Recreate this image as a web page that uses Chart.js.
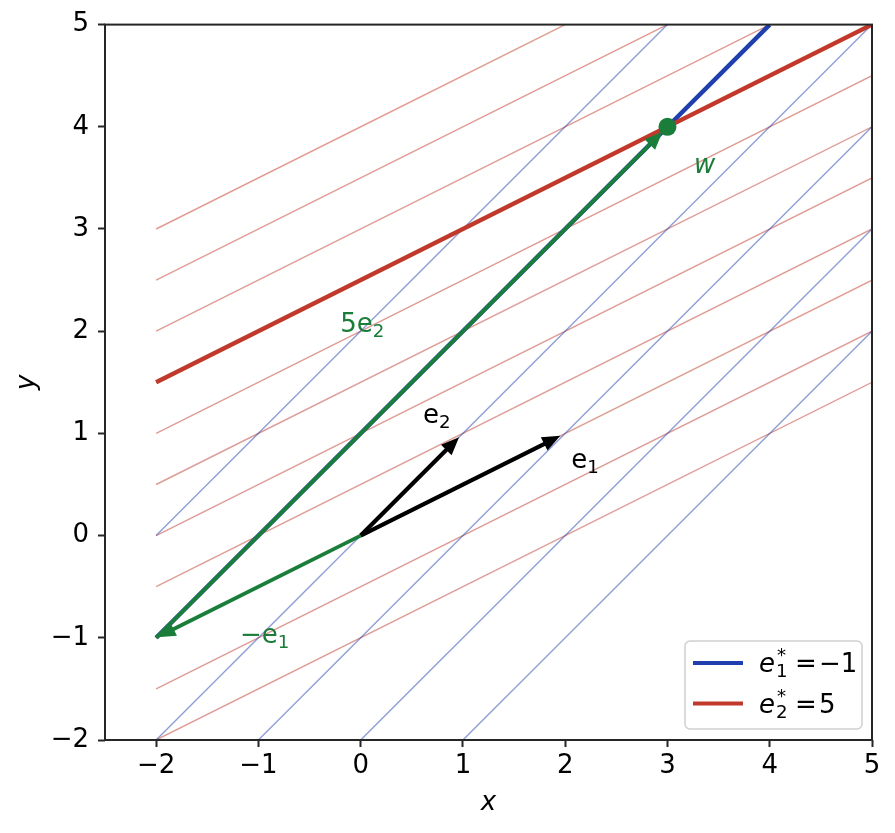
<!DOCTYPE html>
<html>
<head>
<meta charset="utf-8">
<script src="https://cdn.jsdelivr.net/npm/chart.js@4/dist/chart.umd.min.js"></script>
<style>
  html, body { margin: 0; padding: 0; background: #fff; }
  #wrap { width: 895px; height: 833px; }
</style>
</head>
<body>
<div id="wrap"><canvas id="dualChart" width="895" height="833"></canvas></div>
<script>
// axis ticks
const xTicks = [-2, -1, 0, 1, 2, 3, 4, 5];
const yTicks = [-2, -1, 0, 1, 2, 3, 4, 5];

// thin level lines of e1* (x - y = c), end points
const blueLinesX = [[-2, 3], [-2, 4], [-2, 5], [-1, 5], [0, 5], [1, 5]];
const blueLinesY = [[0, 5], [-1, 5], [-2, 5], [-2, 4], [-2, 3], [-2, 2]];

// thin level lines of e2* (-x + 2y = c)
const redLinesX = [[-2, 2], [-2, 3], [-2, 4], [-2, 5], [-2, 5], [-2, 5], [-2, 5], [-2, 5], [-2, 5], [-2, 5], [-2, 5]];
const redLinesY = [[3, 5], [2.5, 5], [2, 5], [1.5, 5], [1, 4.5], [0.5, 4], [0, 3.5], [-0.5, 3], [-1, 2.5], [-1.5, 2], [-2, 1.5]];

// highlighted levels
const e1StarX = [-2, 4];
const e1StarY = [-1, 5];
const e2StarX = [-2, 5];
const e2StarY = [1.5, 5];

// vectors: e1, e2, -e1, 5e2 (drawn from -e1)
const arrowFromX = [0, 0, 0, -2];
const arrowFromY = [0, 0, 0, -1];
const arrowToX = [2, 1, -2, 3];
const arrowToY = [1, 1, -1, 4];

// the point w
const wX = [3];
const wY = [4];

const BLUE = '#1f3fae';
const RED = '#c0392b';
const GREEN = '#1a7d3a';
const BLUE_LIGHT = 'rgba(31, 63, 174, 0.5)';
const RED_LIGHT = 'rgba(192, 57, 43, 0.5)';
const FONT = '"DejaVu Sans", sans-serif';
const FS = 26;

const arrowColors = ['#000', '#000', GREEN, GREEN];
const arrowWidths = [4.2, 4.2, 3.8, 3.8];
const arrowShrink = [5.5, 5.5, 1.5, 7];

const textLabels = [
    { parts: [{ t: 'e' }, { t: '2', sub: true }], x: 0.61, y: 1.1, color: '#000' },
    { parts: [{ t: 'e' }, { t: '1', sub: true }], x: 2.06, y: 0.66, color: '#000' },
    { parts: [{ t: '5' }, { t: 'e' }, { t: '2', sub: true }], x: -0.2, y: 1.99, color: GREEN },
    { parts: [{ t: '\u2212' }, { t: 'e' }, { t: '1', sub: true }], x: -1.18, y: -1.05, color: GREEN },
    { parts: [{ t: 'w', it: true }], x: 3.26, y: 3.55, color: GREEN }
];

function toPoints(xs, ys) {
    return xs.map((x, i) => ({ x: x, y: ys[i] }));
}

function fmt(v) {
    return v < 0 ? '\u2212' + Math.abs(v) : String(v);
}

// small mathtext-like writer: italic letters, sub/superscripts
function drawMath(ctx, parts, x, y, color) {
    ctx.save();
    ctx.fillStyle = color;
    ctx.textAlign = 'left';
    ctx.textBaseline = 'alphabetic';
    let cx = x;
    parts.forEach(p => {
        if (p.gap) { cx += p.gap; return; }
        const small = p.sub || p.sup;
        const size = small ? FS * 0.7 : FS;
        ctx.font = (p.it ? 'italic ' : '') + size + 'px ' + FONT;
        let dy = 0;
        if (p.sub) dy = FS * 0.2;
        if (p.sup) dy = -FS * 0.42;
        ctx.fillText(p.t, cx + (p.dx || 0), y + dy);
        if (!p.stay) cx += ctx.measureText(p.t).width + (p.dx || 0);
    });
    ctx.restore();
}

function drawArrow(ctx, x0, y0, x1, y1, color, width, shrink) {
    const ang = Math.atan2(y1 - y0, x1 - x0);
    const c = Math.cos(ang), s = Math.sin(ang);
    const tipX = x1 - shrink * c, tipY = y1 - shrink * s;
    const L = 18, H = 7.5;
    const bx = tipX - L * c, by = tipY - L * s;
    ctx.save();
    ctx.strokeStyle = color;
    ctx.fillStyle = color;
    ctx.lineWidth = width;
    ctx.lineCap = 'butt';
    ctx.beginPath();
    ctx.moveTo(x0, y0);
    ctx.lineTo(bx + 2 * c, by + 2 * s);
    ctx.stroke();
    ctx.beginPath();
    ctx.moveTo(tipX, tipY);
    ctx.lineTo(bx - H * s, by + H * c);
    ctx.lineTo(bx + H * s, by - H * c);
    ctx.closePath();
    ctx.fill();
    ctx.restore();
}

const vectorPlugin = {
    id: 'vectors',
    beforeDatasetDraw(chart, args) {
        // arrows go just under the w point (dataset 0)
        if (args.index !== 0) return;
        const ctx = chart.ctx;
        const xs = chart.scales.x, ys = chart.scales.y;
        arrowFromX.forEach((fx, i) => {
            drawArrow(ctx,
                xs.getPixelForValue(fx), ys.getPixelForValue(arrowFromY[i]),
                xs.getPixelForValue(arrowToX[i]), ys.getPixelForValue(arrowToY[i]),
                arrowColors[i], arrowWidths[i], arrowShrink[i]);
        });
    },
    afterDatasetsDraw(chart) {
        const ctx = chart.ctx;
        const xs = chart.scales.x, ys = chart.scales.y;
        textLabels.forEach(l => {
            drawMath(ctx, l.parts, xs.getPixelForValue(l.x), ys.getPixelForValue(l.y), l.color);
        });
    },
    afterDraw(chart) {
        const ctx = chart.ctx;
        const a = chart.chartArea;
        // frame on all four sides
        ctx.save();
        ctx.strokeStyle = '#262626';
        ctx.lineWidth = 2;
        ctx.strokeRect(a.left, a.top, a.right - a.left, a.bottom - a.top);

        // legend box in the lower right corner
        const bw = 177, bh = 88;
        const bx = a.right - 10 - bw, by = a.bottom - 11 - bh;
        ctx.beginPath();
        ctx.roundRect(bx, by, bw, bh, 5);
        ctx.fillStyle = 'rgba(255,255,255,0.85)';
        ctx.fill();
        ctx.strokeStyle = '#d0d0d0';
        ctx.lineWidth = 1.5;
        ctx.stroke();

        const rows = [
            { color: BLUE, sub: '1', rhs: '\u22121' },
            { color: RED, sub: '2', rhs: '5' }
        ];
        rows.forEach((r, i) => {
            const ly = by + 22 + i * 40.5;
            ctx.strokeStyle = r.color;
            ctx.lineWidth = 4;
            ctx.beginPath();
            ctx.moveTo(bx + 8, ly);
            ctx.lineTo(bx + 58, ly);
            ctx.stroke();
            drawMath(ctx, [
                { t: 'e', it: true },
                { t: r.sub, sub: true, stay: true, dx: 1 },
                { t: '*', sup: true, dx: 2 },
                { gap: 9 },
                { t: '=' },
                { gap: 2 },
                { t: r.rhs }
            ], bx + 74, ly + 9, '#000');
        });
        ctx.restore();
    }
};

const datasets = [
    {
        data: toPoints(wX, wY),
        showLine: false,
        pointRadius: 9,
        pointBackgroundColor: GREEN,
        pointBorderWidth: 0
    },
    {
        data: toPoints(e2StarX, e2StarY),
        showLine: true,
        borderColor: RED,
        borderWidth: 4.4,
        pointRadius: 0
    },
    {
        data: toPoints(e1StarX, e1StarY),
        showLine: true,
        borderColor: BLUE,
        borderWidth: 4.4,
        pointRadius: 0
    }
];
blueLinesX.forEach((xs, i) => {
    datasets.push({
        data: toPoints(xs, blueLinesY[i]),
        showLine: true,
        borderColor: BLUE_LIGHT,
        borderWidth: 1.4,
        pointRadius: 0
    });
});
redLinesX.forEach((xs, i) => {
    datasets.push({
        data: toPoints(xs, redLinesY[i]),
        showLine: true,
        borderColor: RED_LIGHT,
        borderWidth: 1.4,
        pointRadius: 0
    });
});

const tickFont = { family: FONT, size: FS };

new Chart(document.getElementById('dualChart').getContext('2d'), {
    type: 'scatter',
    data: { datasets: datasets },
    options: {
        responsive: false,
        animation: false,
        events: [],
        layout: { padding: { top: 24, right: 23, left: 0, bottom: 0 } },
        plugins: {
            legend: { display: false },
            tooltip: { enabled: false }
        },
        scales: {
            x: {
                type: 'linear',
                min: -2.5,
                max: 5,
                afterBuildTicks: s => { s.ticks = xTicks.map(v => ({ value: v })); },
                afterFit: s => { s.height = 93; },
                grid: { display: true, drawOnChartArea: false, tickLength: 7, tickColor: '#262626', tickWidth: 2 },
                border: { display: false },
                ticks: { font: tickFont, color: '#000', padding: 4, maxRotation: 0, callback: v => fmt(v) },
                title: { display: true, text: 'x', color: '#000', font: { family: FONT, size: FS, style: 'italic' }, padding: { top: 0, bottom: 14 } }
            },
            y: {
                type: 'linear',
                min: -2,
                max: 5,
                afterBuildTicks: s => { s.ticks = yTicks.map(v => ({ value: v })); },
                afterFit: s => { s.width = 105; },
                grid: { display: true, drawOnChartArea: false, tickLength: 7, tickColor: '#262626', tickWidth: 2 },
                border: { display: false },
                ticks: { font: tickFont, color: '#000', padding: 9, callback: v => fmt(v) },
                title: { display: true, text: 'y', color: '#000', font: { family: FONT, size: FS, style: 'italic' }, padding: { top: 12, bottom: 0 } }
            }
        }
    },
    plugins: [vectorPlugin]
});
</script>
</body>
</html>
